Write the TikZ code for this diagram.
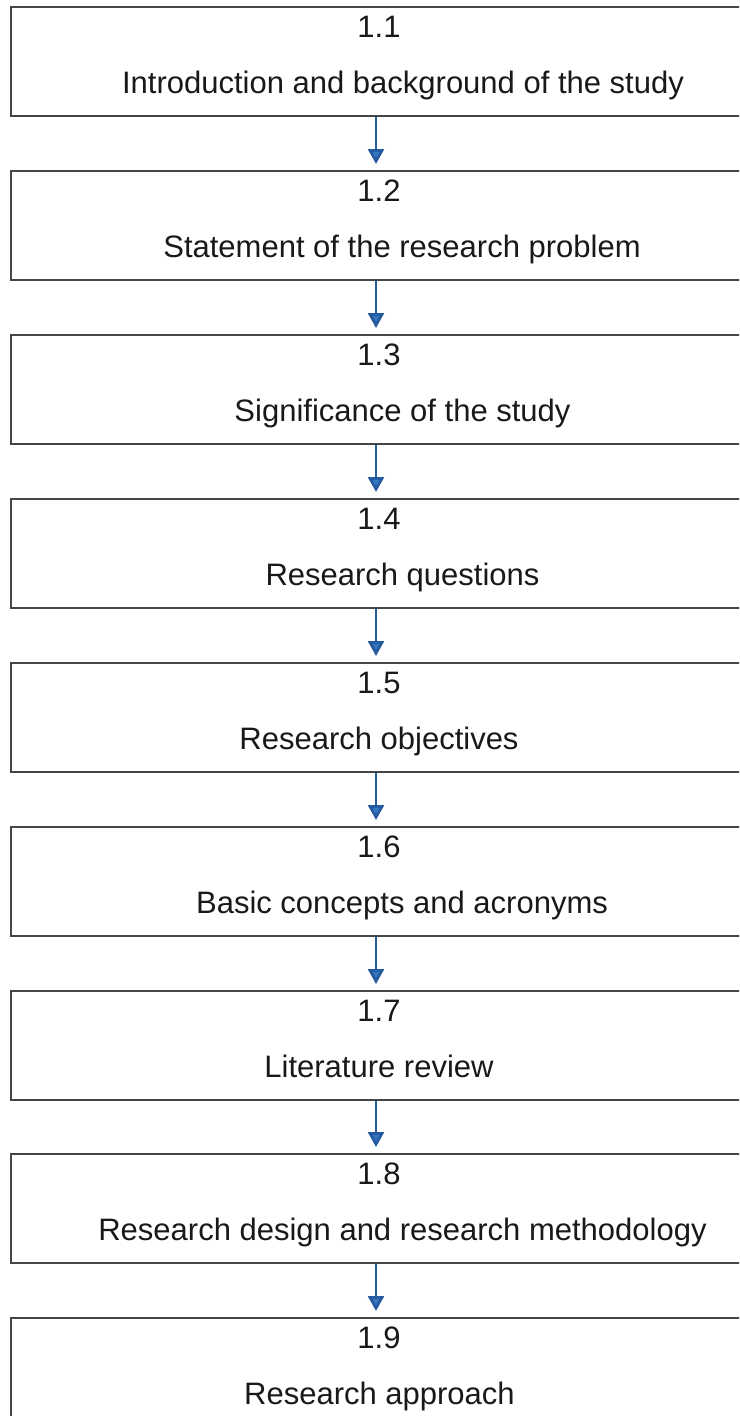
\documentclass[tikz,border=0pt]{standalone}
\usepackage{fontspec}
\setmainfont{Liberation Sans}
\usetikzlibrary{arrows.meta,calc}
\definecolor{boxline}{RGB}{70,70,70}
\definecolor{arrblue}{RGB}{35,90,160}
\definecolor{tipblue}{RGB}{55,115,190}
\tikzset{
  stagebox/.style={draw=boxline, line width=1.8pt, minimum width=784pt, minimum height=109pt, inner sep=0pt, anchor=north},
  numlbl/.style={anchor=base, inner sep=0pt, font=\fontsize{31}{37}\selectfont, text=black!90},
  txtlbl/.style={anchor=base, inner sep=0pt, font=\fontsize{31}{37}\selectfont, text=black!90},
  flowarr/.style={draw=arrblue, line width=2.6pt, -{Triangle[width=16pt,length=15pt,fill=tipblue]}, shorten >=6pt}
}
\begin{document}
\begin{tikzpicture}[x=1pt,y=-1pt]
\useasboundingbox (0,0) rectangle (739,1416);
\clip (0,0) rectangle (739,1416);
\fill[white] (0,0) rectangle (739,1416);
\foreach \i/\top/\num/\tx/\txt in {
  1/6/1.1/403/Introduction and background of the study,
  2/170/1.2/402/Statement of the research problem,
  3/334/1.3/402.5/Significance of the study,
  4/498/1.4/402.5/Research questions,
  5/662/1.5/379/Research objectives,
  6/826/1.6/402/Basic concepts and acronyms,
  7/990/1.7/379/Literature review,
  8/1153/1.8/402.5/Research design and research methodology,
  9/1317/1.9/379.5/Research approach}{
  \node[stagebox] (b\i) at (403,\top) {};
  \node[numlbl] (n\i) at (379,\top+31) {\num};
  \node[txtlbl] (t\i) at (\tx,\top+87) {\txt};
}
\foreach \a/\b in {1/2,2/3,3/4,4/5,5/6,6/7,7/8,8/9}{
  \draw[flowarr] ($(b\a.south)+(-27,0)$) -- ($(b\b.north)+(-27,0)$);
}
\end{tikzpicture}
\end{document}
